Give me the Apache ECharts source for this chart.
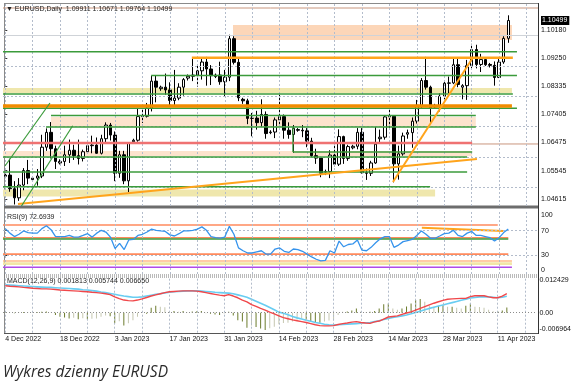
<!DOCTYPE html>
<html><head><meta charset="utf-8">
<script src="https://cdn.jsdelivr.net/npm/echarts@6/dist/echarts.min.js"></script>
<style>html,body{margin:0;padding:0;background:#fff}#c{width:574px;height:389px}</style>
</head><body><div id="c"></div>
<script>
// ---------- DATA ----------
const dates = ["2022-12-04","2022-12-05","2022-12-06","2022-12-07","2022-12-08","2022-12-09",
"2022-12-11","2022-12-12","2022-12-13","2022-12-14","2022-12-15","2022-12-16",
"2022-12-18","2022-12-19","2022-12-20","2022-12-21","2022-12-22","2022-12-23",
"2022-12-26","2022-12-27","2022-12-28","2022-12-29","2022-12-30",
"2023-01-02","2023-01-03","2023-01-04","2023-01-05","2023-01-06",
"2023-01-08","2023-01-09","2023-01-10","2023-01-11","2023-01-12","2023-01-13",
"2023-01-15","2023-01-16","2023-01-17","2023-01-18","2023-01-19","2023-01-20",
"2023-01-22","2023-01-23","2023-01-24","2023-01-25","2023-01-26","2023-01-27",
"2023-01-29","2023-01-30","2023-01-31","2023-02-01","2023-02-02","2023-02-03",
"2023-02-05","2023-02-06","2023-02-07","2023-02-08","2023-02-09","2023-02-10",
"2023-02-12","2023-02-13","2023-02-14","2023-02-15","2023-02-16","2023-02-17",
"2023-02-19","2023-02-20","2023-02-21","2023-02-22","2023-02-23","2023-02-24",
"2023-02-26","2023-02-27","2023-02-28","2023-03-01","2023-03-02","2023-03-03",
"2023-03-05","2023-03-06","2023-03-07","2023-03-08","2023-03-09","2023-03-10",
"2023-03-12","2023-03-13","2023-03-14","2023-03-15","2023-03-16","2023-03-17",
"2023-03-19","2023-03-20","2023-03-21","2023-03-22","2023-03-23","2023-03-24",
"2023-03-26","2023-03-27","2023-03-28","2023-03-29","2023-03-30","2023-03-31",
"2023-04-02","2023-04-03","2023-04-04","2023-04-05","2023-04-06","2023-04-07",
"2023-04-09","2023-04-10","2023-04-11","2023-04-12","2023-04-13"];
const futureSlots = ["2023-04-14","2023-04-16","2023-04-17","2023-04-18","2023-04-19","2023-04-20"];

const open = [1.0536,1.0540,1.0495,1.0465,1.0507,1.0555, 1.0525,1.0530,1.0537,1.0632,1.0681,1.0627,
1.0580,1.0585,1.0607,1.0622,1.0604,1.0595, 1.0617,1.0637,1.0639,1.0612,1.0660,
1.0705,1.0672,1.0546,1.0607,1.0521, 1.0650,1.0655,1.0733,1.0734,1.0761,1.0850,
1.0825,1.0830,1.0821,1.0786,1.0794,1.0830, 1.0860,1.0866,1.0870,1.0884,1.0913,1.0890,
1.0865,1.0870,1.0848,1.0863,1.0990,1.0912, 1.0790,1.0785,1.0727,1.0728,1.0713,1.0740,
1.0680,1.0682,1.0722,1.0733,1.0688,1.0674, 1.0690,1.0688,1.0686,1.0652,1.0604,1.0596,
1.0550,1.0552,1.0606,1.0576,1.0667,1.0595, 1.0630,1.0635,1.0681,1.0548,1.0546,1.0580,
1.0660,1.0665,1.0732,1.0734,1.0577,1.0610, 1.0675,1.0680,1.0718,1.0770,1.0852,1.0830,
1.0765,1.0770,1.0800,1.0843,1.0844,1.0904, 1.0830,1.0835,1.0901,1.0954,1.0905,1.0921,
1.0905,1.0902,1.0862,1.0913,1.09911];
const high = [1.0545,1.0594,1.0520,1.0530,1.0563,1.0590, 1.0535,1.0560,1.0673,1.0694,1.0715,1.0637,
1.0592,1.0637,1.0657,1.0640,1.0657,1.0624, 1.0640,1.0670,1.0664,1.0673,1.0714,
1.0712,1.0684,1.0620,1.0620,1.0648, 1.0660,1.0760,1.0760,1.0778,1.0868,1.0870,
1.0835,1.0875,1.0846,1.0887,1.0843,1.0860, 1.0872,1.0927,1.0905,1.0929,1.0930,1.0903,
1.0875,1.0914,1.0887,1.1003,1.0998,1.0925, 1.0795,1.0792,1.0745,1.0752,1.0790,1.0750,
1.0688,1.0730,1.0805,1.0740,1.0714,1.0705, 1.0695,1.0705,1.0695,1.0663,1.0627,1.0600,
1.0558,1.0622,1.0645,1.0691,1.0670,1.0640, 1.0640,1.0695,1.0695,1.0562,1.0587,1.0700,
1.0690,1.0737,1.0760,1.0737,1.0637,1.0680, 1.0690,1.0730,1.0788,1.0860,1.0930,1.0835,
1.0775,1.0810,1.0850,1.0865,1.0925,1.0925, 1.0840,1.0920,1.0973,1.0970,1.0940,1.0925,
1.0910,1.0915,1.0925,1.0998,1.10671];
const low = [1.0530,1.0485,1.0443,1.0455,1.0490,1.0510, 1.0520,1.0505,1.0530,1.0620,1.0595,1.0560,
1.0575,1.0570,1.0580,1.0590,1.0575,1.0585, 1.0610,1.0612,1.0610,1.0608,1.0645,
1.0654,1.0520,1.0531,1.0510,1.0484, 1.0645,1.0650,1.0712,1.0730,1.0750,1.0780,
1.0818,1.0805,1.0770,1.0767,1.0787,1.0802, 1.0852,1.0850,1.0832,1.0855,1.0835,1.0837,
1.0860,1.0838,1.0800,1.0850,1.0905,1.0784, 1.0775,1.0708,1.0668,1.0690,1.0700,1.0660,
1.0675,1.0662,1.0700,1.0660,1.0660,1.0613, 1.0683,1.0665,1.0632,1.0600,1.0577,1.0533,
1.0540,1.0530,1.0569,1.0570,1.0577,1.0587, 1.0625,1.0625,1.0545,1.0524,1.0537,1.0577,
1.0645,1.0657,1.0690,1.0516,1.0525,1.0604, 1.0660,1.0630,1.0710,1.0760,1.0822,1.0713,
1.0758,1.0750,1.0790,1.0810,1.0840,1.0830, 1.0790,1.0788,1.0890,1.0892,1.0880,1.0900,
1.0895,1.0835,1.0860,1.0907,1.09764];
const close = [1.0540,1.0495,1.0465,1.0507,1.0555,1.0530, 1.0530,1.0537,1.0632,1.0681,1.0627,1.0585,
1.0585,1.0607,1.0622,1.0604,1.0595,1.0617, 1.0637,1.0639,1.0612,1.0660,1.0705,
1.0672,1.0546,1.0607,1.0521,1.0645, 1.0655,1.0733,1.0734,1.0761,1.0850,1.0830,
1.0830,1.0821,1.0786,1.0794,1.0830,1.0855, 1.0866,1.0870,1.0884,1.0913,1.0890,1.0868,
1.0870,1.0848,1.0863,1.0990,1.0912,1.0795, 1.0785,1.0727,1.0728,1.0713,1.0740,1.0677,
1.0682,1.0722,1.0733,1.0688,1.0674,1.0694, 1.0688,1.0686,1.0652,1.0604,1.0596,1.0546,
1.0552,1.0606,1.0576,1.0667,1.0595,1.0634, 1.0635,1.0681,1.0548,1.0546,1.0580,1.0642,
1.0665,1.0732,1.0734,1.0577,1.0610,1.0669, 1.0680,1.0718,1.0770,1.0852,1.0830,1.0761,
1.0770,1.0800,1.0843,1.0844,1.0904,1.0839, 1.0835,1.0901,1.0954,1.0905,1.0921,1.0904,
1.0902,1.0862,1.0913,1.0991,1.10499];

const rsi = [73.2,65.9,60.4,64.1,69.5,66.8,65.9,65.9,73.2,77.8,
71.4,60.4,60.4,60.4,62.2,59.5,59.5,62.2,65.0,59.5,
65.9,70.5,67.7,59.5,41.2,49.4,39.4,54.9,55.8,62.2,
64.1,67.7,72.3,70.5,69.5,68.6,63.1,61.3,65.0,69.5,
69.5,70.5,72.3,76.0,70.5,60.4,58.6,57.7,59.5,76.9,
64.1,42.1,37.5,33.9,33.9,35.7,37.5,32.1,32.1,40.3,
42.1,36.6,34.8,40.3,39.4,36.6,32.1,27.5,23.8,21.1,
22.0,37.5,33.9,53.1,43.9,47.6,48.5,54.9,38.4,37.5,
43.0,50.3,56.7,60.4,60.4,43.0,46.7,52.2,54.0,55.8,
62.2,69.5,64.1,57.7,57.7,61.3,65.0,65.9,70.5,62.2,
60.4,65.9,68.6,62.2,62.2,60.4,58.6,53.1,58.6,66.8,72.69];

const macd = [0.0094,0.0092,0.0091,0.0090,0.0088,0.0087,0.0085,0.0084,0.0083,0.0083,
0.0082,0.0081,0.0079,0.0078,0.0077,0.0076,0.0075,0.0074,0.0073,0.0071,
0.0070,0.0068,0.0066,0.0063,0.0055,0.0049,0.0044,0.0042,0.0041,0.0044,
0.0048,0.0053,0.0058,0.0062,0.0066,0.0070,0.0073,0.0074,0.0075,0.0076,
0.0076,0.0076,0.0075,0.0073,0.0070,0.0067,0.0064,0.0061,0.0059,0.0063,
0.0058,0.0052,0.0044,0.0038,0.0028,0.0022,0.0015,0.0009,0.0002,-0.0004,
-0.0011,-0.0017,-0.0021,-0.0025,-0.0028,-0.0031,-0.0034,-0.0038,-0.0042,-0.0045,
-0.0046,-0.0046,-0.0045,-0.0041,-0.0038,-0.0036,-0.0033,-0.0031,-0.0034,-0.0036,
-0.0037,-0.0032,-0.0029,-0.0022,-0.0015,-0.0013,-0.0011,-0.0006,-0.0001,0.0003,
0.0009,0.0015,0.0021,0.0027,0.0033,0.0038,0.0043,0.0047,0.0048,0.0049,
0.0050,0.0050,0.0056,0.0059,0.0059,0.0059,0.0055,0.0052,0.0052,0.0058,0.00665];
const signal = [0.0097,0.0096,0.0095,0.0094,0.0093,0.0092,0.0091,0.0090,0.0089,0.0088,
0.0088,0.0087,0.0086,0.0085,0.0084,0.0083,0.0082,0.0080,0.0079,0.0077,
0.0075,0.0072,0.0070,0.0067,0.0064,0.0061,0.0058,0.0056,0.0054,0.0054,
0.0055,0.0058,0.0061,0.0064,0.0066,0.0069,0.0071,0.0073,0.0074,0.0075,
0.0076,0.0076,0.0076,0.0075,0.0074,0.0073,0.0071,0.0070,0.0069,0.0068,
0.0066,0.0062,0.0058,0.0054,0.0047,0.0040,0.0033,0.0026,0.0018,0.0010,
0.0002,-0.0002,-0.0007,-0.0013,-0.0018,-0.0022,-0.0026,-0.0030,-0.0034,-0.0037,
-0.0040,-0.0042,-0.0043,-0.0042,-0.0041,-0.0040,-0.0039,-0.0038,-0.0037,-0.0035,
-0.0034,-0.0031,-0.0028,-0.0024,-0.0020,-0.0017,-0.0014,-0.0011,-0.0008,-0.0004,
0.0001,0.0005,0.0010,0.0015,0.0019,0.0023,0.0027,0.0031,0.0035,0.0039,
0.0043,0.0047,0.0051,0.0053,0.0055,0.0056,0.0055,0.0054,0.0052,0.0054,0.005744];
const hist = [0.0002,0.0001,-0.0002,0.0001,0.0002,-0.0001,0.0001,0.0002,0.0003,0.0004,
0.0001,-0.0008,-0.0014,-0.0017,-0.0020,-0.0018,-0.0023,-0.0019,-0.0023,-0.0021,
-0.0020,-0.0014,-0.0010,-0.0012,-0.0037,-0.0030,-0.0045,-0.0037,-0.0026,-0.0014,
-0.0001,-0.0004,0.0017,0.0024,0.0021,0.0019,0.0006,0.0006,0.0003,0.0006,
0.0001,0.0004,0.0005,0.0006,-0.0002,-0.0004,-0.0006,-0.0008,-0.0003,0.0003,
-0.0010,-0.0026,-0.0031,-0.0052,-0.0045,-0.0050,-0.0055,-0.0060,-0.0054,-0.0049,
-0.0040,-0.0036,-0.0035,-0.0031,-0.0024,-0.0020,-0.0026,-0.0031,-0.0033,-0.0035,
-0.0031,-0.0027,-0.0026,-0.0008,0.0003,0.0004,0.0008,0.0015,0.0004,0.0001,
0.0003,0.0006,0.0015,0.0029,0.0032,0.0015,0.0010,0.0015,0.0022,0.0032,
0.0044,0.0048,0.0038,0.0024,0.0021,0.0023,0.0026,0.0021,0.0021,0.0017,
0.0015,0.0024,0.0032,0.0021,0.0020,0.0017,0.0010,0.0005,0.0006,0.0008,0.001813];

const dateTickLabels = ["4 Dec 2022","18 Dec 2022","3 Jan 2023","17 Jan 2023","31 Jan 2023",
"14 Feb 2023","28 Feb 2023","14 Mar 2023","28 Mar 2023","11 Apr 2023"];
const priceTicks = [1.04615,1.05545,1.06475,1.07405,1.08335,1.09250,1.10180];
const lastPrice = 1.10499;
const rsiTicks = [0,30,70,100];
const rsiGridLevels = [30,70];
const macdTicks = [-0.006964,0,0.012429];

// analyst drawings: [price, fromBar, toBar]
const greenLevels = [[1.09471,-0.5,111.9],[1.08686,31.9,111.9],[1.08075,-0.5,111.0],[1.07603,-0.5,111.9],
  [1.07366,10.0,102.9],[1.06986,8.9,102.9],[1.06162,62.9,102.1],[1.05997,-0.5,101.0],
  [1.05502,-0.5,101.0],[1.05017,-0.5,92.9]];
const orangeLevel = [1.09273,40.8,111.0];
const darkOrangeLevel = [1.07679,-0.5,110.8];
const redLevel = [1.06459,-0.5,102.1];
const fiboLevels = [[1.10912,-0.5,116.5,"50.0"],[1.06426,102.1,116.5,"0.0"]];
// bands: [priceTop, priceBottom, fromBar, toBar, kind]
const bands = [[1.10352,1.09857,49.8,110.8,"salmon"],[1.08273,1.08108,-0.5,110.8,"khaki"],
  [1.07316,1.06986,10.0,102.9,"lightSalmon"],[1.06195,1.06030,-0.5,102.1,"lightSalmon"],
  [1.04924,1.04693,-0.5,94.0,"khaki"]];
const orangeTrends = [[[2.78,1.04446],[103.15,1.05931]],[[84.78,1.05172],[102.27,1.09279]]];
const greenTrends = [[[-0.07,1.05700],[9.77,1.07778]],[[3.54,1.04380],[14.74,1.07029]],[[62.9,1.06986],[62.9,1.06162]]];
// RSI drawings: [level, fromBar, toBar, kind]
const rsiLevels = [[79,-0.5,107.7,"orange"],[58.5,-0.5,110,"orange"],[56.5,-0.5,110,"green"],
  [32,-0.5,110,"orange"],[21,-0.5,110.8,"peach"],[11,-0.5,110.8,"purple"]];
const rsiBand = [19,14.5,-0.5,110.8];
const rsiTrend = [[91.1,74.7],[108.9,69.4]];

// ---------- CHART ----------
const FONT = 'Liberation Sans';
const cats = dates.concat(futureSlots);
const N = cats.length;
const candles = dates.map((d,i)=>[open[i],close[i],low[i],high[i]]);
const vGrid = cats.filter((c,i)=>i%6===0).map(c=>({xAxis:c}));
const colors = {green:'#3b9b3b', orange:'#ffa41c', darkOrange:'#f28c00', red:'#ef7272',
  fibo:'#c9957d', salmon:'#fcd6b8', khaki:'#efe7ad', lightSalmon:'#fde3cd',
  rsiOrange:'#ff8a5c', peach:'#ffbb88', purple:'#b04ae8', rsiKhaki:'#f2e6a6'};
const gridLine = {color:'#b3bccb', type:[2,2], width:1};

function seg(points, xIdx, yIdx, style, z){
  return {type:'line', xAxisIndex:xIdx, yAxisIndex:yIdx, data:points, symbol:'none',
    silent:true, lineStyle:style, z:z||5, animation:false};
}
function hseg(lv, xIdx, yIdx, style, z){ return seg([[lv[1],lv[0]],[lv[2],lv[0]]], xIdx, yIdx, style, z); }

const series = [];
series.push({type:'line', xAxisIndex:0, yAxisIndex:0, data:[], silent:true, z:1,
  markLine:{silent:true, symbol:['none','none'], label:{show:false}, animation:false,
    lineStyle:gridLine, data: vGrid.concat(priceTicks.map(p=>({yAxis:p})))}});
series.push({type:'line', xAxisIndex:0, yAxisIndex:0, data:[], silent:true, z:1,
  markLine:{silent:true, symbol:['none','none'], label:{show:false}, animation:false,
    lineStyle:{color:'#cfd3d8', type:'solid', width:1}, data:[{yAxis:lastPrice}]}});
series.push({type:'line', xAxisIndex:3, yAxisIndex:0, data:[], silent:true, z:2,
  markArea:{silent:true, animation:false, data: bands.map(b=>[
    {coord:[b[2],b[0]], itemStyle:{color:colors[b[4]]}}, {coord:[b[3],b[1]]}])}});
series.push({type:'candlestick', xAxisIndex:0, yAxisIndex:0, data:candles, barWidth:3, z:4,
  animation:false,
  itemStyle:{color:'#ffffff', color0:'#000000', borderColor:'#000000', borderColor0:'#000000', borderWidth:1}});
greenLevels.forEach(l=>series.push(hseg(l,3,0,{color:colors.green,width:1.4})));
series.push(hseg(orangeLevel,3,0,{color:colors.orange,width:2.5}));
series.push(hseg(darkOrangeLevel,3,0,{color:colors.darkOrange,width:3.5}));
series.push(hseg(redLevel,3,0,{color:colors.red,width:2.5}));
fiboLevels.forEach(f=>{
  series.push({type:'line', xAxisIndex:3, yAxisIndex:0, symbol:'none', silent:true, z:3, animation:false,
    lineStyle:{color:colors.fibo,width:1},
    data:[[f[1],f[0]],{value:[f[2],f[0]], symbol:'none',
      label:{show:true, formatter:f[3], position:'left', offset:[-1,-5], fontSize:7, fontFamily:FONT, color:'#a0604c'}}]});
});
orangeTrends.forEach(t=>series.push(seg(t,3,0,{color:colors.orange,width:2})));
greenTrends.forEach(t=>series.push(seg(t,3,0,{color:colors.green,width:1.2})));

series.push({type:'line', xAxisIndex:1, yAxisIndex:1, data:[], silent:true, z:1,
  markLine:{silent:true, symbol:['none','none'], label:{show:false}, animation:false,
    lineStyle:gridLine, data: vGrid.concat(rsiGridLevels.map(v=>({yAxis:v})))}});
series.push({type:'line', xAxisIndex:4, yAxisIndex:1, data:[], silent:true, z:2,
  markArea:{silent:true, animation:false, data:[[{coord:[rsiBand[2],rsiBand[0]], itemStyle:{color:colors.rsiKhaki}},{coord:[rsiBand[3],rsiBand[1]]}]]}});
const rsiKind = {orange:colors.rsiOrange, green:colors.green, peach:colors.peach, purple:colors.purple};
rsiLevels.forEach(l=>series.push(seg([[l[1],l[0]],[l[2],l[0]]],4,1,{color:rsiKind[l[3]],width:1.6},3)));
series.push(seg(rsiTrend,4,1,{color:colors.orange,width:2},4));
series.push({type:'line', xAxisIndex:1, yAxisIndex:1, data:rsi, symbol:'none', z:5, animation:false,
  lineStyle:{color:'#3593ec', width:1.3}});

series.push({type:'line', xAxisIndex:2, yAxisIndex:2, data:[], silent:true, z:1,
  markLine:{silent:true, symbol:['none','none'], label:{show:false}, animation:false,
    lineStyle:gridLine, data: vGrid}});
series.push({type:'line', xAxisIndex:2, yAxisIndex:2, data:[], silent:true, z:1,
  markLine:{silent:true, symbol:['none','none'], label:{show:false}, animation:false,
    lineStyle:{color:'#8c8c8c', type:[1,2], width:1}, data:[{yAxis:0}]}});
series.push({type:'bar', xAxisIndex:2, yAxisIndex:2, data:hist, barWidth:1, z:3, animation:false,
  itemStyle:{color:(p)=>{const i=p.dataIndex; const prev=i>0?hist[i-1]:hist[i];
    return Math.abs(hist[i])<Math.abs(prev)?'#c5c7b0':'#6c7b2c';}}});
series.push({type:'line', xAxisIndex:2, yAxisIndex:2, data:signal, symbol:'none', z:4, animation:false,
  lineStyle:{color:'#68cdf2', width:1.6}});
series.push({type:'line', xAxisIndex:2, yAxisIndex:2, data:macd, symbol:'none', z:5, animation:false,
  lineStyle:{color:'#f0474a', width:1.4}});

const gridLeft = 3, gridWidth = 535;
const labelStyle = {fontSize:7, fontFamily:FONT, color:'#111'};
const option = {
  animation:false,
  backgroundColor:'#ffffff',
  title:[
    {text:'▼ EURUSD,Daily  1.09911 1.10671 1.09764 1.10499', left:6, top:6, padding:0,
      textStyle:{fontSize:7, fontFamily:FONT, color:'#222', fontWeight:'normal'}},
    {text:'RSI(9) 72.6939', left:7, top:214, padding:0,
      textStyle:{fontSize:7, fontFamily:FONT, color:'#222', fontWeight:'normal'}},
    {text:'MACD(12,26,9) 0.001813 0.005744 0.006650', left:7, top:277.5, padding:0,
      textStyle:{fontSize:7, fontFamily:FONT, color:'#222', fontWeight:'normal'}},
    {text:'Wykres dzienny EURUSD', left:3, top:365, padding:0,
      textStyle:{fontSize:15.5, fontFamily:'Open Sans', fontStyle:'italic', color:'#2b2b2b', fontWeight:'normal'}}
  ],
  grid:[
    {left:gridLeft, width:gridWidth, top:4, height:202},
    {left:gridLeft, width:gridWidth, top:212, height:62},
    {left:gridLeft, width:gridWidth, top:277, height:55.7}
  ],
  xAxis:[
    {type:'category', gridIndex:0, data:cats, show:false},
    {type:'category', gridIndex:1, data:cats, show:false},
    {type:'category', gridIndex:2, data:cats, axisLine:{show:false}, axisTick:{show:false}, splitLine:{show:false},
      axisLabel:Object.assign({}, labelStyle, {interval:(i)=> i%12===0 && i/12 < dateTickLabels.length,
        formatter:(v,i)=>dateTickLabels[i/12] || '', align:'left', margin:3})},
    {type:'value', gridIndex:0, min:-0.5, max:N-0.5, show:false},
    {type:'value', gridIndex:1, min:-0.5, max:N-0.5, show:false}
  ],
  yAxis:[
    {type:'value', gridIndex:0, position:'right', min:1.04380, max:1.11044, scale:true,
      axisLine:{show:false}, splitLine:{show:false},
      axisTick:{show:true, length:2, lineStyle:{color:'#333'}, customValues:priceTicks},
      axisLabel:Object.assign({}, labelStyle, {margin:3, showMinLabel:true, showMaxLabel:true,
        customValues: priceTicks.concat([lastPrice]),
        formatter:(v)=> Math.abs(v-lastPrice)<1e-7 ? '{hl|'+v.toFixed(5)+'}' : v.toFixed(5),
        rich:{hl:{backgroundColor:'#000', color:'#fff', fontSize:7, fontFamily:FONT, padding:[1,2,1,1]}}})},
    {type:'value', gridIndex:1, position:'right', min:0, max:100,
      axisLine:{show:false}, splitLine:{show:false},
      axisTick:{show:true, length:2, lineStyle:{color:'#333'}, customValues:rsiGridLevels},
      axisLabel:Object.assign({}, labelStyle, {margin:3, customValues:rsiTicks,
        verticalAlignMinLabel:'bottom', verticalAlignMaxLabel:'top'})},
    {type:'value', gridIndex:2, position:'right', min:-0.006964, max:0.012429,
      axisLine:{show:false}, splitLine:{show:false}, axisTick:{show:false},
      axisLabel:Object.assign({}, labelStyle, {margin:3, customValues:macdTicks,
        verticalAlignMinLabel:'bottom', verticalAlignMaxLabel:'top',
        formatter:(v)=> v===0 ? '0.00' : v.toFixed(6)})}
  ],
  series: series,
  graphic:[
    {type:'line', shape:{x1:4.5,y1:4,x2:4.5,y2:333}, style:{stroke:'#8a8a8a', lineWidth:1}, silent:true},
    {type:'line', shape:{x1:4,y1:3.5,x2:538,y2:3.5}, style:{stroke:'#8a8a8a', lineWidth:1}, silent:true},
    {type:'rect', shape:{x:4,y:205.5,width:534,height:3}, style:{fill:'#6d6d6d'}, silent:true},
    {type:'line', shape:{x1:4,y1:275,x2:538,y2:275}, style:{stroke:'#777', lineWidth:1, lineDash:[1,1]}, silent:true},
    {type:'line', shape:{x1:4,y1:277,x2:538,y2:277}, style:{stroke:'#777', lineWidth:1, lineDash:[1,1]}, silent:true},
    {type:'line', shape:{x1:4,y1:333.5,x2:538,y2:333.5}, style:{stroke:'#555', lineWidth:1}, silent:true},
    {type:'line', shape:{x1:538.5,y1:3,x2:538.5,y2:334}, style:{stroke:'#333', lineWidth:1}, silent:true}
  ]
};
const chart = echarts.init(document.getElementById('c'), null, {renderer:'canvas'});
chart.setOption(option);
</script>
</body></html>
